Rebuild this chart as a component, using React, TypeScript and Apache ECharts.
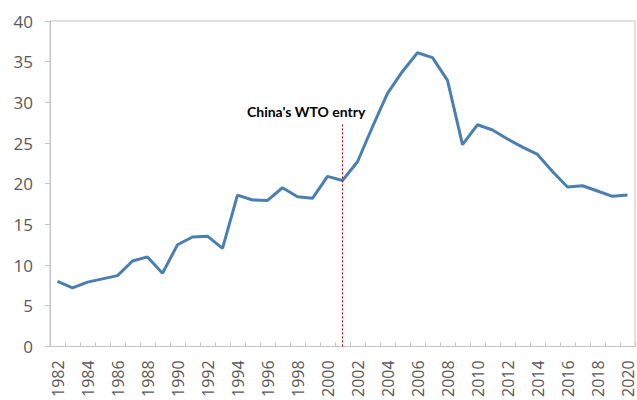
import React, { useEffect, useRef } from "react";
import * as echarts from "echarts";

const years: string[] = [
  "1982","1983","1984","1985","1986","1987","1988","1989","1990","1991",
  "1992","1993","1994","1995","1996","1997","1998","1999","2000","2001",
  "2002","2003","2004","2005","2006","2007","2008","2009","2010","2011",
  "2012","2013","2014","2015","2016","2017","2018","2019","2020",
];

const values: number[] = [
  8.0, 7.2, 7.9, 8.3, 8.7, 10.5, 11.0, 9.0, 12.5, 13.45,
  13.55, 12.05, 18.6, 18.0, 17.95, 19.5, 18.4, 18.2, 20.9, 20.4,
  22.7, 27.0, 31.1, 33.8, 36.1, 35.5, 32.7, 24.8, 27.25, 26.6,
  25.5, 24.5, 23.6, 21.5, 19.6, 19.75, 19.1, 18.45, 18.6,
];

const yTicks = { min: 0, max: 40, interval: 5 };
const wtoYear = "2001";
const wtoTop = 27.5;
const wtoLabel = "China's WTO entry";

export default function App() {
  const ref = useRef<HTMLDivElement>(null);
  useEffect(() => {
    if (!ref.current) return;
    const chart = echarts.init(ref.current, null, { renderer: "svg" });
    chart.setOption({
      animation: false,
      backgroundColor: "#ffffff",
      grid: {
        left: 50,
        right: 2,
        top: 21,
        bottom: 52,
        show: true,
        borderColor: "#c4c4c4",
        borderWidth: 1,
      },
      xAxis: {
        type: "category",
        data: years,
        boundaryGap: true,
        axisLine: { show: true, lineStyle: { color: "#c4c4c4", width: 1 } },
        axisTick: {
          show: true,
          inside: true,
          length: 4,
          interval: 0,
          lineStyle: { color: "#c4c4c4" },
        },
        axisLabel: {
          interval: 1,
          rotate: 90,
          margin: 14,
          color: "#595959",
          fontSize: 16,
          fontFamily: "Open Sans",
          hideOverlap: false,
        },
        splitLine: { show: false },
      },
      yAxis: {
        type: "value",
        min: yTicks.min,
        max: yTicks.max,
        interval: yTicks.interval,
        axisLine: { show: true, lineStyle: { color: "#c4c4c4", width: 1 } },
        axisTick: {
          show: true,
          inside: false,
          length: 5,
          lineStyle: { color: "#c4c4c4" },
        },
        axisLabel: {
          margin: 17,
          color: "#595959",
          fontSize: 17,
          fontFamily: "Open Sans",
        },
        splitLine: { show: false },
      },
      series: [
        {
          type: "line",
          data: values,
          symbol: "none",
          lineStyle: { color: "#4a7fb0", width: 3 },
          itemStyle: { color: "#4a7fb0" },
          markLine: {
            silent: true,
            symbol: ["none", "none"],
            label: { show: false },
            lineStyle: { color: "#c00000", type: [2, 2], width: 1 },
            data: [
              [
                { coord: [wtoYear, 0] },
                { coord: [wtoYear, wtoTop] },
              ],
            ],
          },
        },
      ],
      graphic: [
        {
          type: "text",
          left: 247,
          top: 104,
          style: {
            text: wtoLabel,
            fill: "#000000",
            font: "bold 14px Lato",
          },
        },
      ],
    });
    return () => chart.dispose();
  }, []);
  return (
    <div
      ref={ref}
      style={{ position: "fixed", left: 0, top: 0, width: 637, height: 400 }}
    />
  );
}
